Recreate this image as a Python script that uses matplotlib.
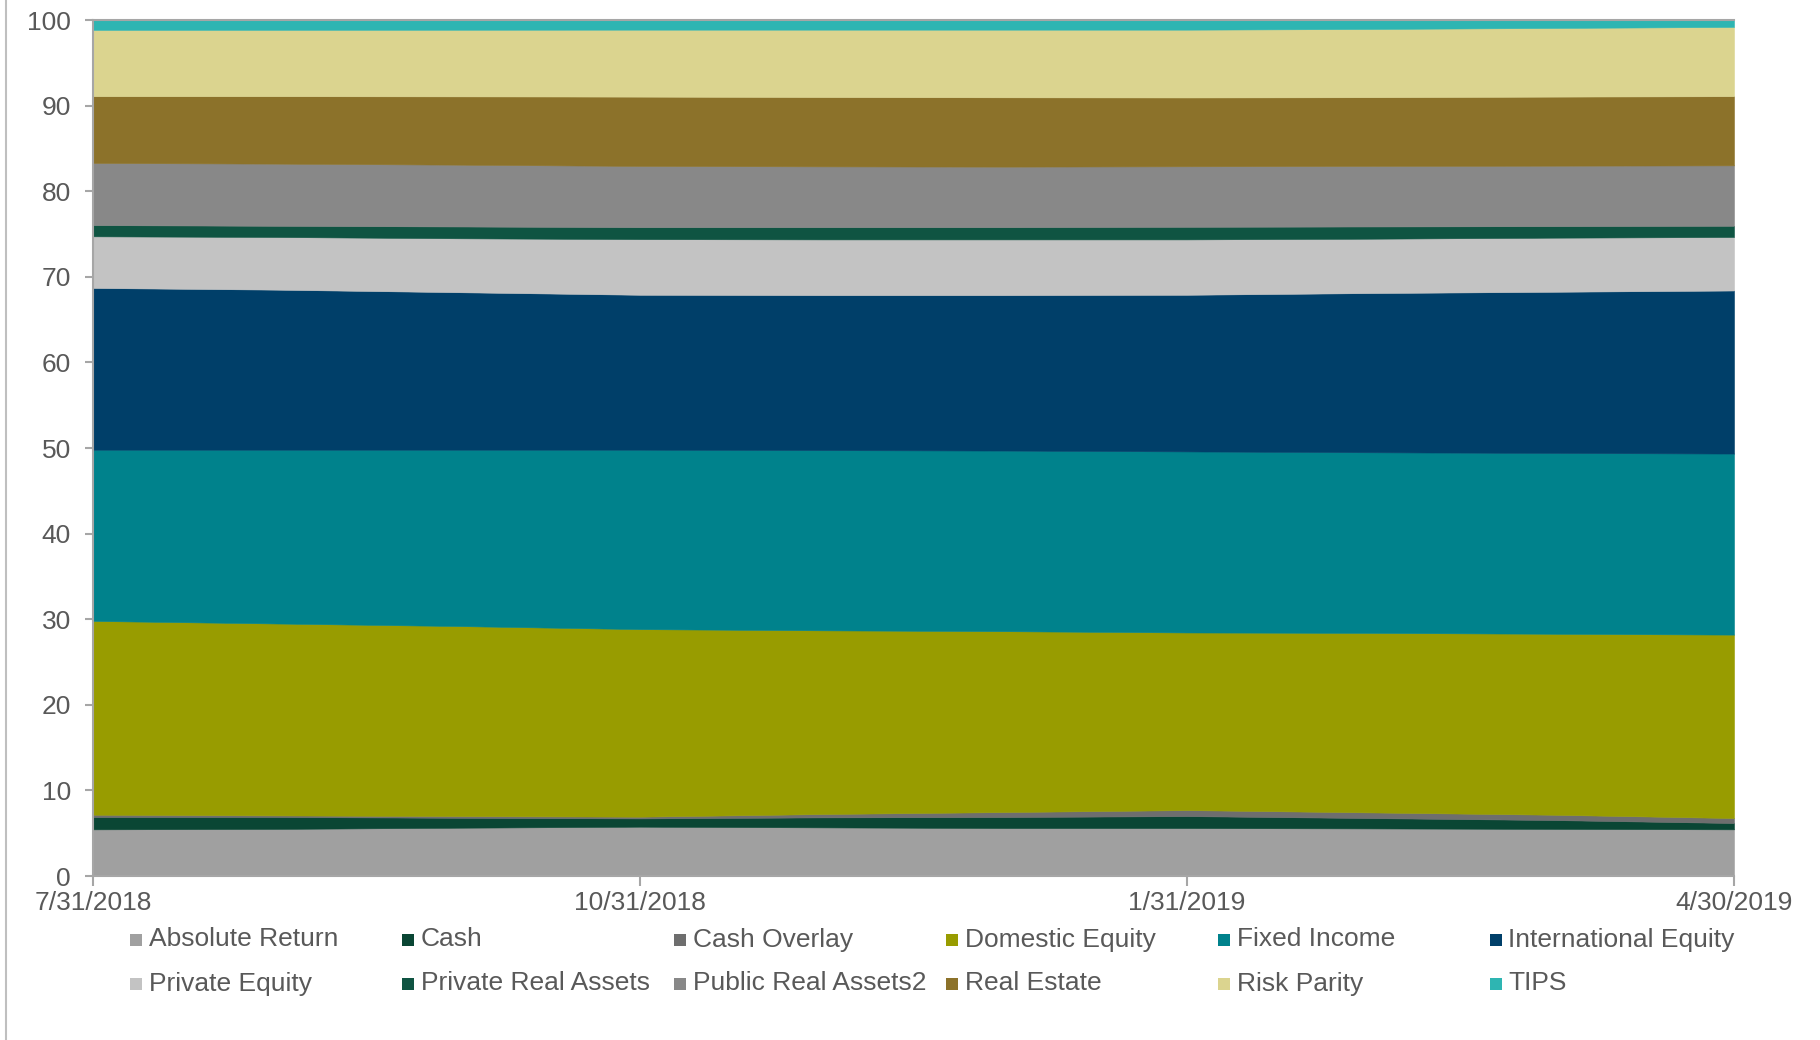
import matplotlib
matplotlib.use("Agg")
import matplotlib.pyplot as plt
from matplotlib.patches import Rectangle
from matplotlib.lines import Line2D

plt.rcParams['font.family'] = ['Liberation Sans', 'DejaVu Sans']

# monthly category axis (Excel month base unit: equal spacing per month)
months = ["7/31/2018", "8/31/2018", "9/30/2018", "10/31/2018", "11/30/2018",
          "12/31/2018", "1/31/2019", "2/28/2019", "3/31/2019", "4/30/2019"]
tick_labels = ["7/31/2018", "10/31/2018", "1/31/2019", "4/30/2019"]

absolute_return = [5.45, 5.50, 5.64, 5.76, 5.68, 5.60, 5.60, 5.56, 5.50, 5.45]
cash = [1.44, 1.40, 1.16, 0.97, 1.17, 1.29, 1.40, 1.21, 1.04, 0.74]
cash_overlay = [0.27, 0.18, 0.20, 0.20, 0.39, 0.58, 0.70, 0.66, 0.62, 0.58]
domestic_equity = [22.64, 22.42, 22.20, 21.91, 21.46, 21.13, 20.75, 20.97, 21.14, 21.43]
fixed_income = [20.00, 20.30, 20.60, 20.96, 21.05, 21.10, 21.15, 21.10, 21.12, 21.15]
international_equity = [18.90, 18.70, 18.40, 18.10, 18.11, 18.16, 18.30, 18.60, 18.83, 19.05]
private_equity = [6.03, 6.15, 6.30, 6.50, 6.51, 6.51, 6.47, 6.35, 6.32, 6.25]
private_real_assets = [1.31, 1.31, 1.38, 1.40, 1.43, 1.43, 1.47, 1.43, 1.35, 1.31]
public_real_assets2 = [7.26, 7.26, 7.22, 7.15, 7.10, 7.07, 7.07, 7.07, 7.06, 7.06]
real_estate = [7.80, 7.88, 7.98, 8.10, 8.10, 8.10, 8.04, 8.03, 8.07, 8.08]
risk_parity = [7.74, 7.75, 7.78, 7.82, 7.87, 7.90, 7.92, 7.97, 8.02, 8.09]
tips = [1.16, 1.15, 1.14, 1.13, 1.13, 1.13, 1.13, 1.05, 0.93, 0.81]

series_names = ["Absolute Return", "Cash", "Cash Overlay", "Domestic Equity",
                "Fixed Income", "International Equity", "Private Equity",
                "Private Real Assets", "Public Real Assets2", "Real Estate",
                "Risk Parity", "TIPS"]
series_values = [absolute_return, cash, cash_overlay, domestic_equity, fixed_income,
                 international_equity, private_equity, private_real_assets,
                 public_real_assets2, real_estate, risk_parity, tips]
colors = ["#A0A0A0", "#0A4634", "#6E6E6E", "#989C00", "#00828C", "#003F69",
          "#C3C3C3", "#0F5442", "#888888", "#8C722A", "#DBD48F", "#2EB5B2"]

text_color = "#595959"
axis_color = "#A6A6A6"

W, H = 1820, 1040
left, right, top, bottom = 93, 1734, 20, 876
fig = plt.figure(figsize=(W / 100, H / 100), dpi=100)
ax = fig.add_axes([left / W, 1 - bottom / H, (right - left) / W, (bottom - top) / H])

x = list(range(len(months)))
polys = ax.stackplot(x, *series_values, colors=colors, linewidth=0.4)
for p, c in zip(polys, colors):
    p.set_edgecolor(c)

ax.set_xlim(x[0], x[-1])
ax.set_ylim(0, 100)
ax.set_yticks(range(0, 101, 10))
ax.set_xticks([months.index(t) for t in tick_labels])
ax.set_xticklabels(tick_labels)

ax.spines["right"].set_visible(False)
for s in ["top", "left", "bottom"]:
    ax.spines[s].set_color(axis_color)
    ax.spines[s].set_linewidth(1.5)
ax.tick_params(axis="y", direction="out", length=6, width=1.5, color=axis_color,
               labelsize=19, labelcolor=text_color, pad=10)
ax.tick_params(axis="x", direction="out", length=7, width=1.5, color=axis_color,
               labelsize=19, labelcolor=text_color, pad=4)
ax.set_axisbelow(False)

# outer chart border line on the left
fig.add_artist(Line2D([6 / W, 6 / W], [0, 1], color="#BFBFBF", linewidth=1.5))

# legend, laid out in Excel-like fixed columns
col_x0 = 130
col_step = 271.9
row_y = [939.5, 983.5]
ncol = 6
for i, (name, c) in enumerate(zip(series_names, colors)):
    r, k = divmod(i, ncol)
    mx = col_x0 + k * col_step
    my = row_y[r]
    fig.add_artist(Rectangle((mx / W, 1 - (my + 6) / H), 12 / W, 12 / H,
                             transform=fig.transFigure, facecolor=c, edgecolor="none"))
    fig.text((mx + 19) / W, 1 - my / H, name, fontsize=19, color=text_color,
             va="center", ha="left")

fig.savefig("out.png", dpi=100)
